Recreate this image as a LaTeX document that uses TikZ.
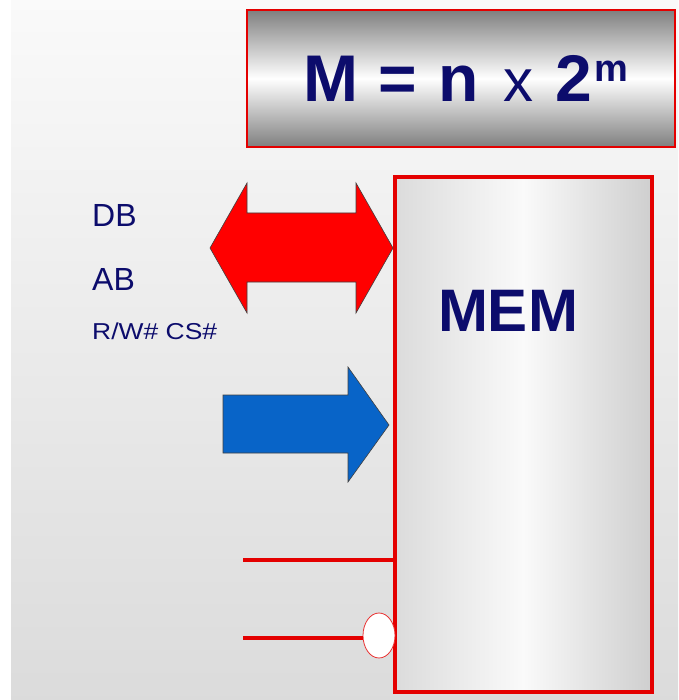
\documentclass[tikz,border=0pt]{standalone}
\usepackage{fontspec}
\setmainfont{Liberation Sans}
\usetikzlibrary{positioning,shapes.geometric}
\definecolor{memnavy}{RGB}{12,12,108}
\definecolor{busred}{RGB}{255,0,0}
\definecolor{lnred}{RGB}{228,0,0}
\definecolor{ctlblue}{RGB}{8,100,200}

\begin{document}
\begin{tikzpicture}[x=1pt,y=-1pt,
  lbl/.style={text=memnavy,inner sep=0pt},
  blockarrow/.style={draw=black!75,line width=0.6pt},
  sigline/.style={draw=lnred,line width=3.5pt}]
\useasboundingbox (0,0) rectangle (678,700);
\fill[white] (0,0) rectangle (678,700);
\shade[top color=black!2,bottom color=black!14] (11,0) rectangle (678,700);
% formula box
\node[draw=lnred,line width=1.2pt,top color=black!50,bottom color=black!50,middle color=white,
  minimum width=428pt,minimum height=137pt,inner sep=0pt] (title) at (461,78.5) {};
\node[lbl,anchor=base] (formula) at (466,102)
  {\fontsize{66}{70}\selectfont\bfseries M\hspace{20pt}=\hspace{22pt}n\hspace{24pt}{\mdseries\fontsize{60}{60}\selectfont x}\hspace{22pt}2\hspace{3pt}\raisebox{20pt}{\fontsize{38}{40}\selectfont m}};
% memory block
\node[draw=lnred,line width=4pt,left color=black!14,right color=black!19,middle color=black!2,
  minimum width=257pt,minimum height=515pt,inner sep=0pt] (mem) at (523.5,434.5) {};
\node[lbl,anchor=base] (memtxt) at (508,331) {\fontsize{60}{64}\selectfont\bfseries MEM};
% labels
\node[lbl,anchor=base west] (db) at (92,227) {\fontsize{32}{36}\selectfont DB};
\node[lbl,anchor=base west] (ab) at (92,290) {\fontsize{32}{36}\selectfont AB};
\node[lbl,anchor=base west] (ctl) at (92,339) {\scalebox{1.15}[1]{\fontsize{23}{26}\selectfont R/W\# CS\#}};
% buses
\draw[blockarrow,fill=busred] (210,248) -- (247,183) -- (247,213) -- (356,213) -- (356,183)
  -- (393,248) -- (356,313) -- (356,282) -- (247,282) -- (247,313) -- cycle;
\draw[blockarrow,fill=ctlblue] (223,395) -- (348,395) -- (348,367) -- (389,425)
  -- (348,482) -- (348,453) -- (223,453) -- cycle;
% control lines
\coordinate (rw) at (243,560);
\coordinate (cs) at (243,638);
\node[ellipse,draw=lnred!80,line width=0.8pt,fill=white,minimum width=32pt,minimum height=45pt,inner sep=0pt] (csbub) at (379,635.5) {};
\draw[sigline] (rw) -- (rw -| mem.west);
\draw[sigline] (cs) -- (cs -| csbub.west);
\end{tikzpicture}
\end{document}
